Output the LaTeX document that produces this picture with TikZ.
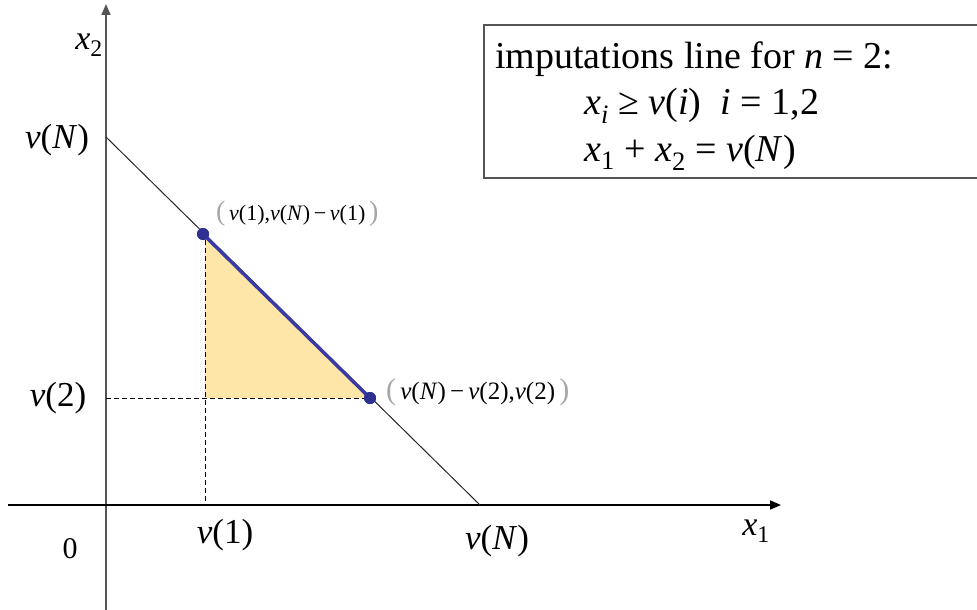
\documentclass[tikz,border=0pt]{standalone}
\usepackage{fontspec}
\setmainfont{Liberation Serif}
\usetikzlibrary{arrows.meta}
\definecolor{fillY}{HTML}{FDE6A8}
\definecolor{segB}{HTML}{3A3AA6}
\definecolor{dotB}{HTML}{2E3192}
\definecolor{axG}{HTML}{555555}
\newcommand{\iv}{\textit{v}}
\newcommand{\iN}{\textit{N}}
\begin{document}
\begin{tikzpicture}[x=1pt,y=-1pt,
  axis/.style={line width=1.6pt,-{Triangle[length=11pt,width=9pt]}},
  lab/.style={inner sep=0pt,font=\fontsize{35}{40}\selectfont},
  axlab/.style={inner sep=0pt,font=\fontsize{34}{40}\selectfont},
  ptlab/.style={inner sep=0pt,anchor=west,font=\fontsize{22}{26}\selectfont},
  boxtxt/.style={inner sep=0pt,anchor=base west,font=\fontsize{38}{44}\selectfont},
  guide/.style={line width=1pt,dash pattern=on 5pt off 3pt},
  dot/.style={circle,fill=dotB,inner sep=0pt,minimum size=12pt}]
\useasboundingbox (0,0) rectangle (977,610);
% coordinates
\coordinate (xl) at (8,505);
\coordinate (xr) at (781,505);
\coordinate (yb) at (106,610);
\coordinate (yt) at (106,4);
\coordinate (vN2) at (106,137);
\coordinate (vN1) at (480,505);
\coordinate (c) at (205,398);
\coordinate (v1) at (205,505);
\coordinate (v2) at (106,398);
% yellow triangle
\fill[fillY] (205,234) -- (c) -- (370,398) -- cycle;
% axes
\draw[axis,axG] (yb) -- (yt);
\draw[axis,black] (xl) -- (xr);
% imputation line
\draw[line width=1pt,black!85] (vN2) -- (vN1);
% dashed guides
\node[dot] (A) at (203,234) {};
\node[dot] (B) at (370,398) {};
\draw[guide] (v2) -- (B.west);
\draw[guide] (205,240) -- (v1);
% blue segment
\draw[segB,line width=3.5pt] (A.center) -- (B.center);
\node[dot] at (A) {};
\node[dot] at (B) {};
% axis labels
\node[axlab] (lx2) at (89,45) {\textit{x}\textsubscript{2}};
\node[axlab] (lx1) at (756,531) {\textit{x}\textsubscript{1}};
\node[lab] (lvN2) at (57,140) {\iv(\iN)};
\node[lab] (lv2) at (58,398) {\iv(2)};
\node[lab,font=\fontsize{30}{34}\selectfont] (l0) at (70,549) {0};
\node[lab] (lv1) at (225,535) {\iv(1)};
\node[lab] (lvN1) at (497,541) {\iv(\iN)};
% point labels
\node[ptlab] (pA) at (216,214) {{\color{gray!70}\fontsize{28}{28}\selectfont(}\,\iv(1),\iv(\iN)\,−\,\iv(1)\,{\color{gray!70}\fontsize{28}{28}\selectfont)}};
\node[ptlab,font=\fontsize{25}{28}\selectfont] (pB) at (386,392) {{\color{gray!70}\fontsize{30}{30}\selectfont(}\,\iv(\iN)\,−\,\iv(2),\iv(2)\,{\color{gray!70}\fontsize{30}{30}\selectfont)}};
% info box
\draw[axG,line width=1.4pt] (980,25) -- (484,25) -- (484,178) -- (980,178);
\node[boxtxt] (t1) at (495,69) {imputations line for \textit{n} = 2:};
\node[boxtxt] (t2) at (584,114) {\textit{x}\textsubscript{\textit{i}} ≥ \iv(\textit{i})\ \ \textit{i} = 1,2};
\node[boxtxt] (t3) at (584,161) {\textit{x}\textsubscript{1} + \textit{x}\textsubscript{2} = \iv(\iN)};
\end{tikzpicture}
\end{document}
